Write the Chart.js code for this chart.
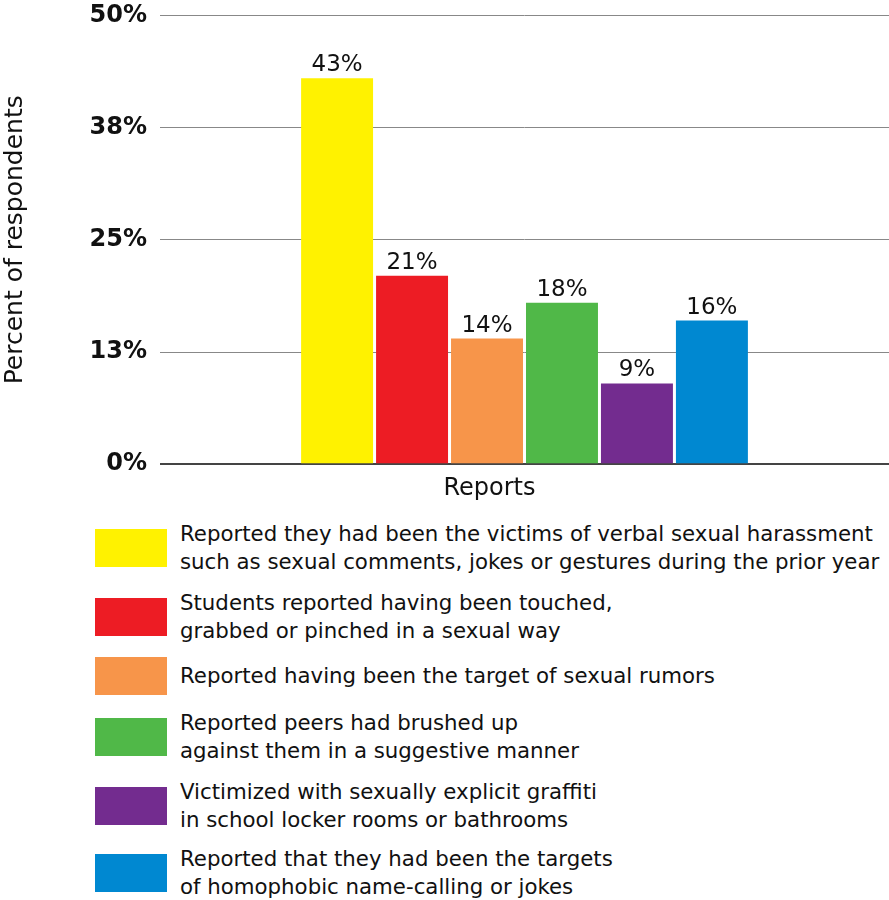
<!DOCTYPE html>
<html>
<head>
<meta charset="utf-8">
<script src="https://cdn.jsdelivr.net/npm/chart.js@4.4.1/dist/chart.umd.min.js"></script>
<style>
  html, body { margin: 0; padding: 0; background: #fff; }
  #wrap { position: relative; width: 889px; height: 900px; overflow: hidden; }
  #chartBox { position: absolute; left: 0; top: -12px; width: 889px; height: 525px; }
  .row { position: absolute; left: 95px; display: flex; align-items: center; transform: translateY(-50%); }
  .box { width: 72px; height: 38px; flex: none; }
  .txt { margin-left: 13px; font-family: "DejaVu Sans", sans-serif; font-size: 21.3px; line-height: 28px; color: #111; white-space: nowrap; }
</style>
</head>
<body>
<div id="wrap">
  <div id="chartBox"><canvas id="c"></canvas></div>
  <div id="legend"></div>
</div>
<script>
const categories = ["Reports"];
const seriesNames = [
  "Reported they had been the victims of verbal sexual harassment\nsuch as sexual comments, jokes or gestures during the prior year",
  "Students reported having been touched,\ngrabbed or pinched in a sexual way",
  "Reported having been the target of sexual rumors",
  "Reported peers had brushed up\nagainst them in a suggestive manner",
  "Victimized with sexually explicit graffiti\nin school locker rooms or bathrooms",
  "Reported that they had been the targets\nof homophobic name-calling or jokes"
];
const seriesValues = [43, 21, 14, 18, 9, 16];
const seriesColors = ["#FFF200", "#ED1C24", "#F7954A", "#50B848", "#732C8F", "#0088D1"];
const yTickValues = [0, 12.5, 25, 37.5, 50];
const yTickLabels = ["0%", "13%", "25%", "38%", "50%"];
const yTitle = "Percent of respondents";

// layout only
const legendRowCenters = [548, 617, 676, 737, 806, 873];

const valueLabels = {
  id: 'valueLabels',
  afterDatasetsDraw(chart) {
    const ctx = chart.ctx;
    ctx.save();
    ctx.font = '23px "DejaVu Sans", sans-serif';
    ctx.fillStyle = '#111';
    ctx.textAlign = 'center';
    ctx.textBaseline = 'alphabetic';
    chart.data.datasets.forEach((ds, i) => {
      const meta = chart.getDatasetMeta(i);
      meta.data.forEach((bar, j) => {
        ctx.fillText(ds.data[j] + '%', bar.x, bar.y - 7);
      });
    });
    ctx.restore();
  }
};

const datasets = seriesValues.map((v, i) => ({
  label: seriesNames[i],
  data: [v],
  backgroundColor: seriesColors[i],
  borderWidth: 0,
  barPercentage: 0.96,
  categoryPercentage: 0.617
}));

new Chart(document.getElementById('c'), {
  type: 'bar',
  data: { labels: categories, datasets },
  options: {
    responsive: true,
    maintainAspectRatio: false,
    animation: false,
    layout: { padding: { top: 6, right: 0, left: 0, bottom: 0 } },
    plugins: { legend: { display: false }, tooltip: { enabled: false } },
    scales: {
      x: {
        grid: { display: false, drawTicks: false },
        border: { display: false },
        ticks: { color: '#111', font: { family: 'DejaVu Sans', size: 24 }, padding: 10, labelOffset: -35 }
      },
      y: {
        min: 0, max: 50,
        afterBuildTicks(scale) { scale.ticks = yTickValues.map(v => ({ value: v })); },
        afterFit(scale) { scale.width = 160; },
        grid: {
          drawTicks: false,
          color: ctx => ctx.tick && ctx.tick.value === 0 ? '#444' : '#888',
          lineWidth: ctx => ctx.tick && ctx.tick.value === 0 ? 2 : 1
        },
        border: { display: false },
        ticks: {
          color: '#111',
          font: { family: 'DejaVu Sans', size: 24, weight: 'bold' },
          padding: 13,
          callback: (v) => yTickLabels[yTickValues.indexOf(v)]
        },
        title: {
          display: true,
          text: yTitle,
          color: '#111',
          font: { family: 'DejaVu Sans', size: 25 },
          padding: { top: 0, bottom: 0 }
        }
      }
    }
  },
  plugins: [valueLabels]
});

const legend = document.getElementById('legend');
seriesNames.forEach((name, i) => {
  const row = document.createElement('div');
  row.className = 'row';
  row.style.top = legendRowCenters[i] + 'px';
  const box = document.createElement('div');
  box.className = 'box';
  box.style.background = seriesColors[i];
  const txt = document.createElement('div');
  txt.className = 'txt';
  txt.innerHTML = name.split('\n').join('<br>');
  row.appendChild(box);
  row.appendChild(txt);
  legend.appendChild(row);
});
</script>
</body>
</html>
